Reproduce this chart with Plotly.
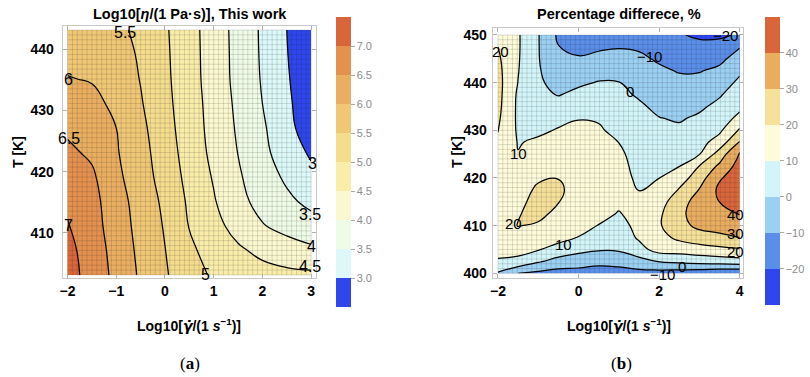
import numpy as np
import plotly.graph_objects as go

# ---------------- Panel (a): Log10 viscosity ----------------
X_A = [-2.0, -1.5, -1.0, -0.5, 0.0, 0.5, 1.0, 1.5, 2.0, 2.5, 3.0]
T_A = [403.15, 407.15, 411.15, 415.15, 419.15, 423.15, 427.15, 431.15, 435.15, 439.15, 443.15]
# rows: one per temperature (bottom -> top), columns: one per X_A value
Z_A = [
    [7.20, 6.80, 6.37, 5.93, 5.55, 5.21, 4.93, 4.75, 4.66, 4.62, 4.60],
    [7.15, 6.75, 6.33, 5.88, 5.51, 5.09, 4.81, 4.57, 4.39, 4.22, 4.10],
    [7.03, 6.69, 6.27, 5.83, 5.46, 4.98, 4.65, 4.33, 4.03, 3.85, 3.69],
    [6.91, 6.66, 6.21, 5.79, 5.40, 4.92, 4.54, 4.14, 3.84, 3.60, 3.38],
    [6.75, 6.58, 6.11, 5.72, 5.31, 4.85, 4.46, 4.06, 3.73, 3.42, 3.13],
    [6.59, 6.42, 6.04, 5.68, 5.24, 4.79, 4.38, 3.99, 3.62, 3.26, 2.93],
    [6.42, 6.30, 6.00, 5.62, 5.18, 4.75, 4.34, 3.94, 3.57, 3.15, 2.73],
    [6.21, 6.12, 5.90, 5.54, 5.13, 4.73, 4.31, 3.90, 3.50, 3.09, 2.70],
    [6.02, 5.97, 5.80, 5.48, 5.10, 4.70, 4.28, 3.86, 3.46, 3.05, 2.65],
    [5.87, 5.82, 5.71, 5.44, 5.08, 4.69, 4.27, 3.85, 3.44, 3.02, 2.60],
    [5.75, 5.71, 5.62, 5.38, 5.06, 4.68, 4.26, 3.84, 3.43, 3.00, 2.57],
]
LEVEL_START_A, LEVEL_END_A, LEVEL_STEP_A = 3.0, 7.0, 0.5
CB_RANGE_A = [2.5, 7.5]
CB_TICKS_A = [3.0, 3.5, 4.0, 4.5, 5.0, 5.5, 6.0, 6.5, 7.0]
CB_TICKTEXT_A = ["3.0", "3.5", "4.0", "4.5", "5.0", "5.5", "6.0", "6.5", "7.0"]
BAND_COLORS_A = ["#2e46ec", "#dcf8f8", "#eefbe6", "#fbf8cf", "#f9eda9",
                 "#f5dd8e", "#f0c775", "#eaae60", "#e4904e", "#d9663a"]
XTICKS_A = [-2, -1, 0, 1, 2, 3]
YTICKS_A = [410, 420, 430, 440]
LABELS_A = [("5.5", -0.82, 442.8), ("6", -1.98, 435.1), ("6.5", -1.98, 425.5),
            ("7", -1.98, 411.3), ("5", 0.83, 403.2), ("4.5", 2.97, 404.5),
            ("4", 3.0, 407.8), ("3.5", 2.97, 413.0), ("3", 3.02, 421.4)]

# ---------------- Panel (b): percentage difference ----------------
X_B = [-2.0, -1.5, -1.0, -0.5, 0.0, 0.5, 1.0, 1.5, 2.0, 2.5, 3.0, 3.5, 4.0]
T_B = [400.0, 402.5, 405.0, 407.5, 410.0, 412.5, 415.0, 417.5, 420.0, 422.5, 425.0,
       427.5, 430.0, 432.5, 435.0, 437.5, 440.0, 442.5, 445.0, 447.5, 450.0]
# one list per X_B value (columns), each running over T_B (bottom -> top)
Z_B_COLUMNS = [
    [-1, 9, 13, 15.5, 17, 17.5, 17.5, 17, 16.5, 17, 18, 19, 20.2, 21.5, 22.5, 23, 23, 22.5, 21.5, 20, 18],
    [-10, 8, 12.5, 17, 20.3, 19.5, 17, 15, 13, 11.5, 10.3, 9.5, 8.7, 8.3, 8.2, 8.5, 9.8, 10.4, 10.8, 11, 11],
    [-12, 1.2, 10.6, 15.5, 18.8, 22.5, 24, 22, 18.5, 15.5, 13.5, 11.3, 8.5, 6, 4, 2.3, 1.3, 0.8, 0.5, 0.5, 0.5],
    [-14, -3.5, 6.5, 13, 16, 17.5, 20.3, 21.5, 19.8, 17, 14.5, 12.5, 10.6, 8, 4, -0.5, -2.8, -5, -7.5, -9.8, -11.5],
    [-14, -5, 2.5, 9.7, 13, 15, 16, 16.5, 16.5, 16, 15, 13.5, 11.8, 9.7, 6.2, 2.3, -1.5, -5, -9.3, -12, -14],
    [-16, -6.3, 0.8, 5.2, 9.7, 13, 15, 16, 16.5, 16, 15, 13.5, 11.3, 9, 6, 3.3, 0.5, -3.3, -7.4, -11.5, -15],
    [-15, -5.6, 1, 3.8, 6.6, 9.4, 12, 13.5, 14, 13.5, 12, 9.9, 7, 5, 3.3, 2, 0.3, -3.5, -7.2, -10.5, -13.5],
    [-13, -3.6, 6.5, 11.3, 12.8, 13.5, 13, 9.8, 8, 6.5, 5.8, 5, 4, 3, 1.3, -1, -3.5, -6, -8.5, -11, -14],
    [-14, 0.5, 14, 17, 19, 18.5, 16.5, 13, 9.9, 8, 6.5, 5, 3, 0.3, -2, -4.2, -6.4, -8.7, -11, -13, -15],
    [-15, 2.2, 14.6, 22, 26.5, 27, 25, 20.7, 15, 9.7, 7, 4.5, 1.5, -0.8, -3.3, -5.7, -8.1, -10.5, -13.5, -16.5, -19.3],
    [-16, 3.8, 16.3, 25, 32.5, 36, 35, 30.5, 25.5, 20.2, 9.6, 6.5, 4.2, 1.4, -1.5, -4.5, -7.5, -10.5, -14, -17.5, -21.5],
    [-18, 5, 17.6, 27.9, 33.5, 36.5, 40.1, 42, 39, 32, 24.3, 14.3, 8.2, 5.2, 2.3, -0.9, -4.5, -8.1, -12.2, -16.9, -21.5],
    [-19, 6.2, 19.1, 30, 35.3, 40.5, 43, 44.5, 45, 44, 41.5, 30.6, 21.4, 12.5, 7.9, 4.9, 1.9, -1.6, -6.1, -10.5, -19],
]
LEVEL_START_B, LEVEL_END_B, LEVEL_STEP_B = -20, 40, 10
CB_RANGE_B = [-30, 50]
CB_TICKS_B = [-20, -10, 0, 10, 20, 30, 40]
BAND_COLORS_B = ["#2e46ec", "#5a8ee9", "#9bd0f3", "#d3f5f9",
                 "#fdfbd9", "#f6e19a", "#e9ad5f", "#d9663a"]
XTICKS_B = [-2, 0, 2, 4]
YTICKS_B = [400, 410, 420, 430, 440, 450]
LABELS_B = [("20", -1.94, 446.5), ("\u221220", 3.65, 449.9), ("\u221210", 1.76, 445.4),
            ("0", 1.27, 438.1), ("10", -1.49, 425.2), ("20", -1.61, 410.5),
            ("10", -0.38, 406.1), ("40", 3.90, 412.4), ("30", 3.90, 408.3),
            ("20", 3.90, 404.6), ("0", 2.58, 401.4), ("\u221210", 2.09, 399.8)]

W, H = 810, 377
FONT = "Liberation Sans"


def band_scale(colors):
    n = len(colors) - 1
    return [[i / n, c] for i, c in enumerate(colors)]


def step_scale(colors):
    n = len(colors)
    out = []
    for i, c in enumerate(colors):
        out += [[i / n, c], [(i + 1) / n, c]]
    return out


def mesh_trace(xs, ys, n, xa, ya):
    gx = np.linspace(min(xs), max(xs), n + 1)
    gy = np.linspace(min(ys), max(ys), n + 1)
    px, py = [], []
    for v in gx:
        px += [v, v, None]
        py += [gy[0], gy[-1], None]
    for v in gy:
        px += [gx[0], gx[-1], None]
        py += [v, v, None]
    return go.Scatter(x=px, y=py, mode="lines", xaxis=xa, yaxis=ya,
                      line=dict(color="rgba(40,40,40,0.26)", width=0.6),
                      hoverinfo="skip", showlegend=False)


def colorbar_trace(colors, crange, tickvals, ticktext, left_px, top_px, len_px, xa, ya, x0, y0):
    cb = dict(x=left_px / W, xanchor="left", xpad=0, y=1 - top_px / H, yanchor="top", ypad=0,
              len=len_px, lenmode="pixels", thickness=15, thicknessmode="pixels",
              outlinewidth=0, tickvals=tickvals, ticks="outside", ticklen=4,
              tickcolor="#aaaaaa", tickfont=dict(family=FONT, size=11, color="#8c8c8c"))
    if ticktext is not None:
        cb["ticktext"] = ticktext
    return go.Scatter(x=[x0], y=[y0], mode="markers", xaxis=xa, yaxis=ya,
                      marker=dict(size=1, opacity=0, color=[crange[0]], cmin=crange[0],
                                  cmax=crange[1], colorscale=step_scale(colors),
                                  showscale=True, colorbar=cb),
                      hoverinfo="skip", showlegend=False)


fig = go.Figure()

fig.add_trace(go.Contour(
    x=X_A, y=T_A, z=Z_A, xaxis="x", yaxis="y",
    autocontour=False,
    contours=dict(start=LEVEL_START_A, end=LEVEL_END_A, size=LEVEL_STEP_A,
                  coloring="fill", showlines=True),
    line=dict(color="black", width=1.25, smoothing=1.3),
    colorscale=band_scale(BAND_COLORS_A), showscale=False,
    hoverinfo="skip"))
fig.add_trace(mesh_trace(X_A, T_A, 50, "x", "y"))
fig.add_trace(colorbar_trace(BAND_COLORS_A, CB_RANGE_A, CB_TICKS_A, CB_TICKTEXT_A,
                             335.7, 17, 290, "x", "y", X_A[0], T_A[0]))

fig.add_trace(go.Contour(
    x=X_B, y=T_B, z=Z_B_COLUMNS, transpose=True, xaxis="x2", yaxis="y2",
    autocontour=False,
    contours=dict(start=LEVEL_START_B, end=LEVEL_END_B, size=LEVEL_STEP_B,
                  coloring="fill", showlines=True),
    line=dict(color="black", width=1.25, smoothing=1.3),
    colorscale=band_scale(BAND_COLORS_B), showscale=False,
    hoverinfo="skip"))
fig.add_trace(mesh_trace(X_B, T_B, 50, "x2", "y2"))
fig.add_trace(colorbar_trace(BAND_COLORS_B, CB_RANGE_B, CB_TICKS_B, None,
                             765, 16.7, 288, "x2", "y2", X_B[0], T_B[0]))

axis_common = dict(showgrid=False, zeroline=False, showline=True, linecolor="#c8c8c8",
                   linewidth=1, mirror="ticks", ticks="inside", ticklen=4,
                   tickcolor="#b0b0b0", automargin=False,
                   tickfont=dict(family=FONT, size=14, color="black", weight="bold"))

fig.update_layout(
    width=W, height=H, margin=dict(l=0, r=0, t=0, b=0, autoexpand=False),
    paper_bgcolor="white", plot_bgcolor="white", showlegend=False,
    xaxis=dict(domain=[62.7 / W, 316 / W], range=[-2.1, 3.1], tickvals=XTICKS_A,
               anchor="y", ticklabelstandoff=0, **axis_common),
    yaxis=dict(domain=[1 - 278.3 / H, 1 - 26 / H], range=[402.6, 443.8], tickvals=YTICKS_A,
               anchor="x", ticklabelstandoff=5, **axis_common),
    xaxis2=dict(domain=[492.7 / W, 743.3 / W], range=[-2.13, 4.09], tickvals=XTICKS_B,
                anchor="y2", ticklabelstandoff=0, **axis_common),
    yaxis2=dict(domain=[1 - 278.3 / H, 1 - 28.3 / H], range=[398.95, 451.4], tickvals=YTICKS_B,
                anchor="x2", ticklabelstandoff=2, **axis_common),
)

ann = []
def paper_text(text, px, py, size, family=FONT, angle=0):
    ann.append(dict(text=text, x=px / W, y=1 - py / H, xref="paper", yref="paper",
                    xanchor="center", yanchor="middle", showarrow=False, textangle=angle,
                    font=dict(family=family, size=size, color="black")))

paper_text("<b>Log10[<i>η</i>/(1 Pa·s)], This work</b>", 190, 14, 14.5)
paper_text("<b>Percentage differece, %</b>", 619, 14, 14.5)
xtitle = ("<b>Log10[<span style=\"font-family:DejaVu Sans\"><i>γ̇</i></span>"
          "/(1 <i>s</i><sup>−1</sup>)]</b>")
paper_text(xtitle, 189, 325, 14)
paper_text(xtitle, 619, 325, 14)
paper_text("<b>T [K]</b>", 18, 152, 14, angle=-90)
paper_text("<b>T [K]</b>", 457, 152, 14, angle=-90)
paper_text("(<b>a</b>)", 190, 363, 17, family="Liberation Serif")
paper_text("(<b>b</b>)", 621, 363, 17, family="Liberation Serif")

for txt, lx, ly in LABELS_A:
    ann.append(dict(text=txt, x=lx, y=ly, xref="x", yref="y", showarrow=False,
                    xanchor="center", yanchor="middle",
                    font=dict(family=FONT, size=16, color="black")))
for txt, lx, ly in LABELS_B:
    ann.append(dict(text=txt, x=lx, y=ly, xref="x2", yref="y2", showarrow=False,
                    xanchor="center", yanchor="middle",
                    font=dict(family=FONT, size=15, color="black")))

fig.update_layout(annotations=ann)
fig.write_html("out.html",
               config={"displayModeBar": False, "staticPlot": True},
               post_script="document.body.style.margin='0px';"
                           "document.body.style.padding='0px';"
                           "document.body.style.overflow='hidden';")
